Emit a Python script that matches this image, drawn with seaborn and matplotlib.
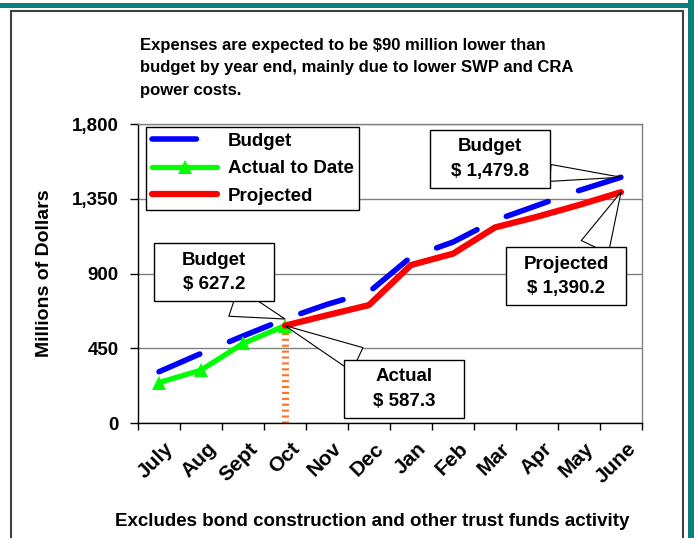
import matplotlib
matplotlib.use("Agg")
import matplotlib.pyplot as plt
from matplotlib.patches import Rectangle
from matplotlib.path import Path
from matplotlib.transforms import ScaledTranslation
import seaborn as sns
import pandas as pd

# data (millions of dollars)
months = ["July", "Aug", "Sept", "Oct", "Nov", "Dec", "Jan", "Feb", "Mar", "Apr", "May", "June"]
budget = [310, 420, 525, 627.2, 715, 790, 1000, 1090, 1220, 1310, 1400, 1479.8]
actual = [245, 320, 480, 587.3]
projected = [587.3, 650, 711, 952, 1020, 1178, 1242, 1313, 1390.2]
y_ticks = [0, 450, 900, 1350, 1800]

title_text = ("Expenses are expected to be $90 million lower than\n"
              "budget by year end, mainly due to lower SWP and CRA\n"
              "power costs.")
footnote = "Excludes bond construction and other trust funds activity"

sns.set_style("white")
plt.rcParams["font.family"] = ["Liberation Sans", "DejaVu Sans"]
plt.rcParams["font.weight"] = "bold"
for key in ["text.color", "axes.labelcolor", "xtick.color", "ytick.color"]:
    plt.rcParams[key] = "black"
FS = 13.5

pos = list(range(len(months)))
budget_df = pd.DataFrame({"pos": pos, "value": budget})
n_act = len(actual)
actual_df = pd.DataFrame({"pos": pos[:n_act], "value": actual})
proj_df = pd.DataFrame({"pos": pos[n_act - 1:], "value": projected})

fig = plt.figure(figsize=(6.94, 5.38), dpi=100)
ax = fig.add_axes([138 / 694, 1 - 423.3 / 538, 504 / 694, 299.3 / 538])

sns.lineplot(data=budget_df, x="pos", y="value", ax=ax, color="#0000FF", lw=4,
             dashes=(8, 5.8), dash_capstyle="round", label="Budget", sort=False, zorder=3)
sns.lineplot(data=actual_df, x="pos", y="value", ax=ax, color="#00FF00", lw=3.8,
             marker="^", markersize=9.5, markeredgewidth=0, label="Actual to Date",
             sort=False, zorder=4)
sns.lineplot(data=proj_df, x="pos", y="value", ax=ax, color="#FF0000", lw=4.5,
             solid_capstyle="round", label="Projected", sort=False, zorder=5)

# dashed orange marker for the current month
ax.vlines(n_act - 1, 0, actual[-1], colors="#FF7020", lw=5, linestyles=(0, (0.3, 0.55)),
          zorder=2)

ax.set_xlim(-0.5, len(months) - 0.5)
ax.set_ylim(y_ticks[0], y_ticks[-1])
ax.set_yticks(y_ticks)
ax.set_yticklabels([f"{v:,}" for v in y_ticks])
ax.set_xticks(pos)
ax.set_xticklabels(months, rotation=45, ha="right", va="center", rotation_mode="anchor")
ax.set_xticks([p - 0.5 for p in pos] + [pos[-1] + 0.5], minor=True)
ax.tick_params(axis="x", which="major", length=0, pad=16, labelsize=15)
ax.tick_params(axis="x", which="minor", length=5, width=1, direction="out", color="black",
               bottom=True)
ax.tick_params(axis="y", length=5.8, width=1, direction="out", color="black", left=True,
               labelsize=FS, pad=8)
for lab in ax.get_xticklabels():
    lab.set_transform(lab.get_transform() + ScaledTranslation(0.12, 0, fig.dpi_scale_trans))

ax.set_xlabel("")
ax.set_ylabel("Millions of Dollars", fontsize=14, fontweight="bold")
ax.yaxis.set_label_coords(-0.169, 0.5)

ax.grid(axis="y", color="#808080", lw=1)
ax.grid(axis="x", visible=False)
for side in ["left", "bottom"]:
    ax.spines[side].set_color("black")
    ax.spines[side].set_linewidth(1)
for side in ["top", "right"]:
    ax.spines[side].set_color("#808080")
    ax.spines[side].set_linewidth(1)
    ax.spines[side].set_visible(True)

leg = ax.legend(loc="upper left", bbox_to_anchor=(0.016, 0.99), frameon=True, fancybox=False,
                edgecolor="black", framealpha=1, fontsize=FS, borderpad=0.3,
                labelspacing=0.55, handlelength=3.5, handletextpad=0.55, borderaxespad=0)
leg.get_frame().set_linewidth(1)


def fixed_box(x0, y0, width, height, mutation_size):
    cx, cy = x0 + width / 2, y0 + height / 2
    w, h = 120, 58
    return Path([(cx - w / 2, cy - h / 2), (cx + w / 2, cy - h / 2), (cx + w / 2, cy + h / 2),
                 (cx - w / 2, cy + h / 2), (cx - w / 2, cy - h / 2)], closed=True)


def callout(text, xy, xytext, relpos, tail):
    ax.annotate(text, xy=xy, xytext=xytext, textcoords="data", ha="center", va="center",
                fontsize=FS, fontweight="bold", linespacing=1.6, zorder=6,
                bbox=dict(boxstyle=fixed_box, fc="white", ec="black", lw=1),
                arrowprops=dict(arrowstyle=f"wedge,tail_width={tail},shrink_factor=0.5",
                                fc="white", ec="black", lw=0.8, relpos=relpos,
                                shrinkA=0, shrinkB=0))


i_oct = n_act - 1
callout(f"Budget\n$ {budget[i_oct]:,.1f}", (i_oct, budget[i_oct]), (1.31, 907), (0.4, 0), 1.6)
callout(f"Actual\n$ {actual[-1]:,.1f}", (i_oct, actual[-1]), (5.83, 206), (0.05, 1), 1.4)
callout(f"Budget\n$ {budget[-1]:,.1f}", (len(budget) - 1, budget[-1]), (7.88, 1589),
        (1, 0.2), 0.9)
callout(f"Projected\n$ {projected[-1]:,.1f}", (len(budget) - 1, projected[-1]), (9.69, 883),
        (0.79, 1), 1.6)

fig.text(140 / 694, 1 - 38 / 538, title_text, ha="left", va="top", fontsize=12,
         fontweight="bold", linespacing=1.62)
fig.text(372 / 694, 1 - 521 / 538, footnote, ha="center", va="center", fontsize=FS,
         fontweight="bold")

# slide frame
fig.add_artist(Rectangle((0, 1 - 8 / 538), 1, 5 / 538, transform=fig.transFigure,
                         color="#0B7F7B", lw=0))
fig.add_artist(Rectangle((688 / 694, 0), 6 / 694, 1, transform=fig.transFigure,
                         color="#0B7F7B", lw=0))
fig.add_artist(Rectangle((11 / 694, -0.02), 672 / 694, 1 - 11 / 538 + 0.02,
                         transform=fig.transFigure, fill=False, ec="#404040", lw=1.5))

fig.savefig("out.png", dpi=100)
